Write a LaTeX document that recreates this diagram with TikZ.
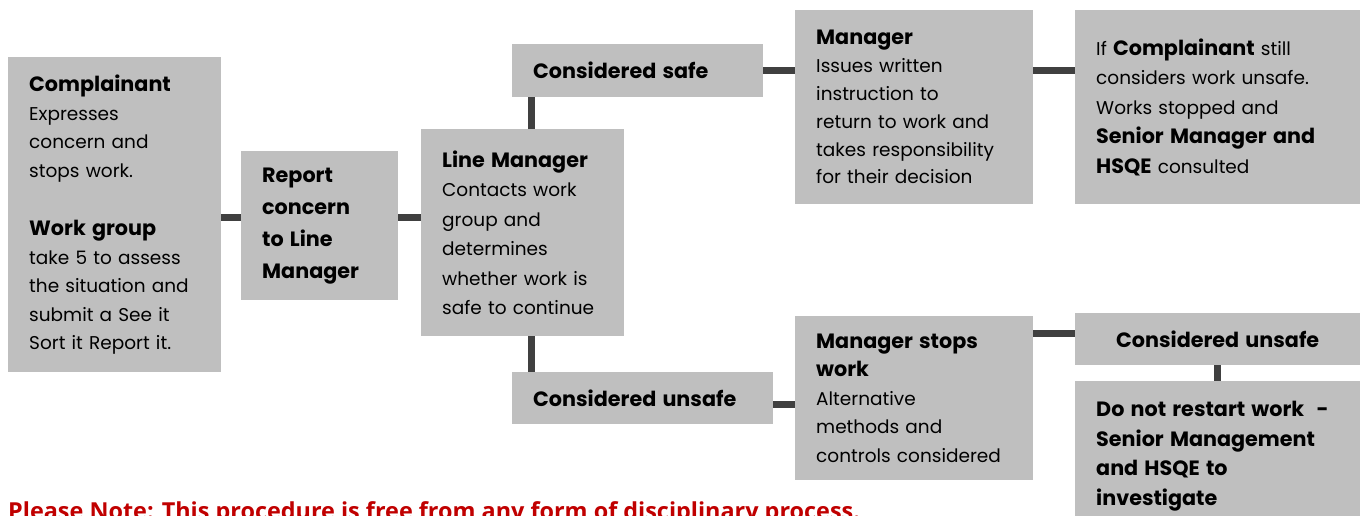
\documentclass[tikz,border=0pt]{standalone}
\usepackage{fontspec}
\setmainfont{Poppins}[BoldFeatures={Scale=1.12}]
\newfontfamily\notefont{Open Sans}
\usetikzlibrary{positioning,calc}
\definecolor{boxgrey}{RGB}{191,191,191}
\definecolor{linkgrey}{RGB}{64,64,64}
\definecolor{notered}{RGB}{192,0,0}

\begin{document}
\begin{tikzpicture}[x=1pt,y=-1pt,
  box/.style={fill=boxgrey,inner sep=0pt,anchor=north west,align=left,
    font=\fontsize{18.5}{28.5}\selectfont},
  link/.style={draw=linkgrey,line width=7pt}]
\useasboundingbox (0,0) rectangle (1361,515);

% left column
\node[box,minimum width=213pt,minimum height=315pt,text width=171pt] (comp) at (8,57)
  {\textbf{Complainant}\\Expresses\\concern and\\stops work.\\[30pt]
   \textbf{Work group}\\take 5 to assess\\the situation and\\submit a See it\\Sort it Report it.};
\node[box,minimum width=157pt,minimum height=149pt,text width=115pt,
  font=\fontsize{18.5}{32}\selectfont] (rep) at (241,151)
  {\textbf{Report}\\\textbf{concern}\\\textbf{to Line}\\\textbf{Manager}};
\node[box,minimum width=203pt,minimum height=207pt,text width=161pt,
  font=\fontsize{18.5}{29.5}\selectfont] (lm) at (421,129)
  {\textbf{Line Manager}\\Contacts work\\group and\\determines\\whether work is\\safe to continue};

% decision boxes
\node[box,minimum width=251pt,minimum height=53pt,text width=209pt] (safe) at (512,44)
  {\textbf{Considered safe}};
\node[box,minimum width=261pt,minimum height=52pt,text width=219pt] (uns) at (512,372)
  {\textbf{Considered unsafe}};

% manager outcomes
\node[box,minimum width=238pt,minimum height=194pt,text width=196pt,
  font=\fontsize{18.5}{27.8}\selectfont] (mgr) at (795,10)
  {\textbf{Manager}\\Issues written\\instruction to\\return to work and\\takes responsibility\\for their decision};
\node[box,minimum width=238pt,minimum height=164pt,text width=196pt] (stop) at (795,316)
  {\textbf{Manager stops}\\\textbf{work}\\Alternative\\methods and\\controls considered};
\node[box,minimum width=285pt,minimum height=194pt,text width=243pt,
  font=\fontsize{18.5}{29.5}\selectfont] (chk) at (1075,10)
  {If \textbf{Complainant} still\\considers work unsafe.\\Works stopped and\\\textbf{Senior Manager and}\\\textbf{HSQE} consulted};
\node[box,minimum width=285pt,minimum height=52pt,text width=243pt,align=center] (runs) at (1075,313)
  {\textbf{Considered unsafe}};
\node[box,minimum width=285pt,minimum height=150pt,text width=243pt,
  font=\fontsize{18.5}{29.5}\selectfont] (halt) at (1075,381)
  {\textbf{Do not restart work\ \ -}\\\textbf{Senior Management}\\\textbf{and HSQE to}\\\textbf{investigate}};

% connectors
\coordinate (spine) at (0,217);
\coordinate (stem) at (531,0);
\draw[link] (comp.east |- spine) -- (rep.west |- spine);
\draw[link] (rep.east |- spine) -- (lm.west |- spine);
\draw[link] (lm.north -| stem) -- (safe.south -| stem);
\draw[link] (lm.south -| stem) -- (uns.north -| stem);
\draw[link] (safe.east) -- (safe.east -| mgr.west);
\draw[link] (mgr.east |- safe.east) -- (chk.west |- safe.east);
\draw[link] ([yshift=-6pt]uns.east) -- ([yshift=-6pt]uns.east -| stop.west);
\draw[link] ([yshift=6pt]runs.west) -- ([yshift=6pt]runs.west -| stop.east);
\draw[link] (runs.south) -- (halt.north);

\node[anchor=base west,inner sep=0pt,text=notered,font=\notefont\bfseries\fontsize{23.4}{27}\selectfont] (note) at (8,519)
  {Please Note: This procedure is free from any form of disciplinary process.};
\end{tikzpicture}
\end{document}
